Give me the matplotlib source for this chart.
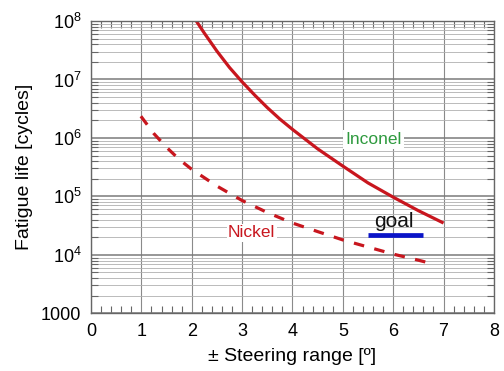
import matplotlib
matplotlib.use('Agg')
import matplotlib.pyplot as plt
import numpy as np
from matplotlib.ticker import FixedLocator, FuncFormatter, LogLocator, NullFormatter

plt.rcParams['font.family'] = ['Liberation Sans', 'DejaVu Sans']
plt.rcParams['mathtext.fontset'] = 'custom'
plt.rcParams['mathtext.rm'] = 'Liberation Sans'

# values
inconel_x = [2.09, 2.25, 2.5, 2.75, 3.0, 3.25, 3.5, 3.75, 4.0, 4.5, 5.0, 5.5, 6.0, 6.5, 7.0]
inconel_y = [1e8, 6.2e7, 3.05e7, 1.6e7, 9.1e6, 5.4e6, 3.3e6, 2.1e6, 1.4e6,
             6.5e5, 3.3e5, 1.7e5, 9.7e4, 5.7e4, 3.5e4]

nickel_x = [0.99, 1.25, 1.5, 1.75, 2.0, 2.5, 3.0, 3.5, 4.0, 4.5, 5.0, 5.5, 6.0, 6.5, 6.79]
nickel_y = [2.35e6, 1.18e6, 6.9e5, 4.3e5, 2.9e5, 1.5e5, 8.5e4, 5.3e4, 3.5e4,
            2.5e4, 1.8e4, 1.36e4, 1.03e4, 8.1e3, 7.0e3]

goal_x = [5.5, 6.6]
goal_y = [2.2e4, 2.2e4]

red = '#c8161e'

fig = plt.figure(figsize=(5.04, 3.71), dpi=100)
ax = fig.add_axes([0.1806, 0.1555, 0.7994, 0.7879])

ax.set_yscale('log')
ax.set_xlim(0, 8)
ax.set_ylim(1e3, 1e8)

ax.xaxis.set_major_locator(FixedLocator(range(9)))
ax.xaxis.set_minor_locator(FixedLocator(np.arange(0, 8.01, 0.2)))
ax.yaxis.set_major_locator(LogLocator(base=10, numticks=10))
ax.yaxis.set_minor_locator(LogLocator(base=10, subs=np.arange(2, 10), numticks=20))
ax.yaxis.set_minor_formatter(NullFormatter())


def yfmt(v, pos):
    e = int(round(np.log10(v)))
    if e == 3:
        return '1000'
    return r'$10^{%d}$' % e


ax.yaxis.set_major_formatter(FuncFormatter(yfmt))

ax.grid(True, which='major', axis='x', color='#8a8a8a', lw=0.8)
ax.grid(True, which='major', axis='y', color='#7a7a7a', lw=1.1)
ax.grid(True, which='minor', axis='y', color='#b0b0b0', lw=0.6)
ax.set_axisbelow(True)

ax.tick_params(which='both', direction='in', top=True, right=True, color='#666666')
ax.tick_params(which='major', length=0, labelsize=13, pad=7)
ax.tick_params(which='minor', length=5, width=0.8)
for s in ax.spines.values():
    s.set_color('#666666')
    s.set_linewidth(1.0)

ax.plot(inconel_x, inconel_y, color=red, lw=2.3, solid_capstyle='butt')
ax.plot(nickel_x, nickel_y, color=red, lw=2.3, dashes=(3.3, 3.3))
ax.plot(goal_x, goal_y, color='#0a14c8', lw=3.4, solid_capstyle='butt')

ax.text(5.61, 9.3e5, 'Inconel', color='#2e9a3e', fontsize=12.5,
        ha='center', va='center',
        bbox=dict(facecolor='white', edgecolor='none', pad=1.5))
ax.text(3.19, 2.4e4, 'Nickel', color=red, fontsize=12.5,
        ha='center', va='center',
        bbox=dict(facecolor='white', edgecolor='none', pad=1.0))
ax.text(6.02, 2.55e4, 'goal', color='#111111', fontsize=15,
        ha='center', va='bottom')

ax.set_xlabel('± Steering range [º]', fontsize=14, labelpad=6)
ax.set_ylabel('Fatigue life [cycles]', fontsize=14, labelpad=6)

plt.savefig('out.png', dpi=100)
plt.close()
